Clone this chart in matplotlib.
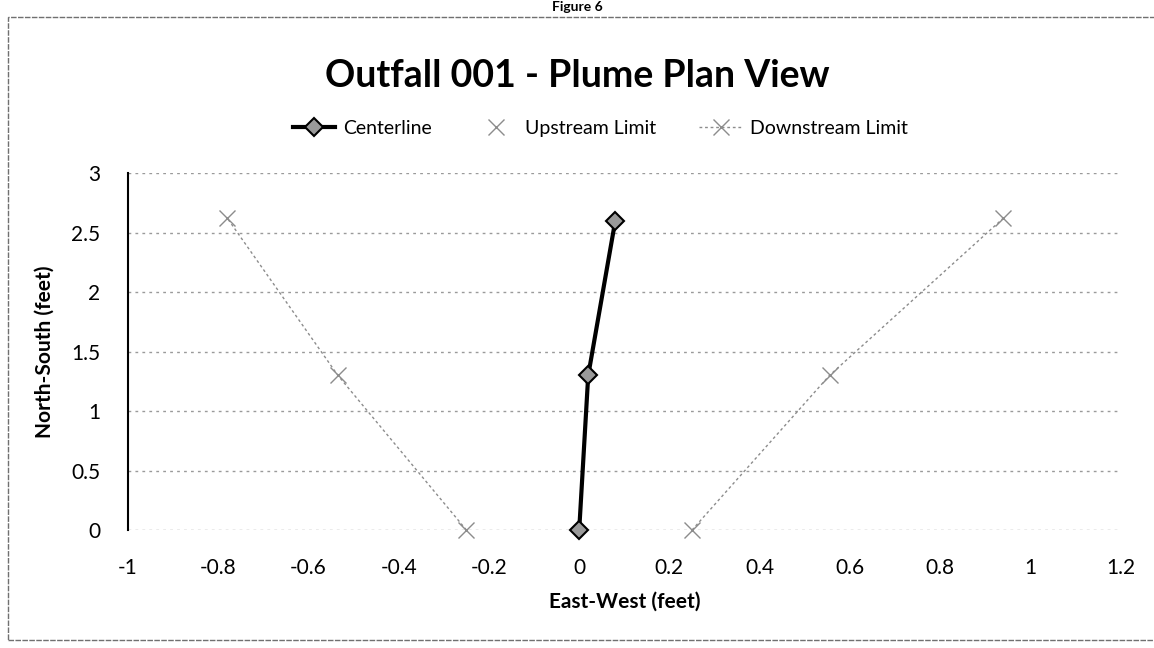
import matplotlib
matplotlib.use("Agg")
import matplotlib.pyplot as plt
from matplotlib.patches import Rectangle

plt.rcParams['font.family'] = ['Lato', 'DejaVu Sans']

# data (feet)
center_x = [0.0, 0.02, 0.08]
center_y = [0.0, 1.3, 2.6]
up_x = [-0.25, -0.535, -0.78]
up_y = [0.0, 1.3, 2.62]
down_x = [0.25, 0.555, 0.94]
down_y = [0.0, 1.3, 2.62]

x_ticks = [-1, -0.8, -0.6, -0.4, -0.2, 0, 0.2, 0.4, 0.6, 0.8, 1, 1.2]
x_labels = ["-1", "-0.8", "-0.6", "-0.4", "-0.2", "0", "0.2", "0.4", "0.6", "0.8", "1", "1.2"]
y_ticks = [0, 0.5, 1, 1.5, 2, 2.5, 3]
y_labels = ["0", "0.5", "1", "1.5", "2", "2.5", "3"]

fig = plt.figure(figsize=(11.54, 6.48), dpi=100)
ax = fig.add_axes([0.111, 0.182, 0.86, 0.551])

grey = "#8c8c8c"

# gridlines (scanned look -> dotted)
for yv in y_ticks:
    ax.axhline(yv, color="#9a9a9a", lw=1.0, ls=(0, (2, 3)), zorder=1)

# upstream: line drawn, legend entry marker only
ax.plot(up_x, up_y, color=grey, lw=1.0, ls=(0, (2, 2)), zorder=2)
ax.plot(up_x, up_y, ls="none", marker="x", ms=11, mew=1.0, color=grey,
        label="Upstream Limit", zorder=3, clip_on=False)
ax.plot(down_x, down_y, color=grey, lw=1.0, ls=(0, (2, 2)), marker="x",
        ms=11, mew=1.0, label="Downstream Limit", zorder=3, clip_on=False)
ax.plot(center_x, center_y, color="black", lw=3, marker="D", ms=9,
        mfc="#9a9a9a", mec="black", mew=1.5, label="Centerline", zorder=4,
        clip_on=False)

ax.set_xlim(-1, 1.2)
ax.set_ylim(0, 3)
ax.set_xticks(x_ticks)
ax.set_xticklabels(x_labels)
ax.set_yticks(y_ticks)
ax.set_yticklabels(y_labels)
ax.tick_params(length=0, labelsize=15)
ax.tick_params(axis="x", pad=20)
ax.tick_params(axis="y", pad=20)
for s in ["top", "right", "bottom"]:
    ax.spines[s].set_visible(False)
ax.spines["left"].set_linewidth(1.5)
ax.spines["left"].set_color("black")

ax.set_xlabel("East-West (feet)", fontsize=15, fontweight="bold", labelpad=10)
ax.set_ylabel("North-South (feet)", fontsize=15, fontweight="bold", labelpad=12)

fig.text(0.5, 0.883, "Outfall 001 - Plume Plan View", ha="center", va="center",
         fontsize=27, fontweight="bold")
# page caption at the very top (cut off in the scan)
fig.text(0.5, 0.999, "Figure 6", ha="center", va="top", fontsize=10,
         fontweight="bold")

h, l = ax.get_legend_handles_labels()
order = [2, 0, 1]
fig.legend([h[i] for i in order], [l[i] for i in order], loc="center",
           bbox_to_anchor=(0.52, 0.802), ncol=3, frameon=False, fontsize=14,
           handlelength=2.2, columnspacing=2.2, handletextpad=0.4)

# scanned page frame
fig.add_artist(Rectangle((0.007, 0.012), 1.2, 0.962, transform=fig.transFigure,
                         fill=False, ec="#707070", lw=1.0, ls=(0, (4, 1))))

fig.savefig("out.png", dpi=100)
